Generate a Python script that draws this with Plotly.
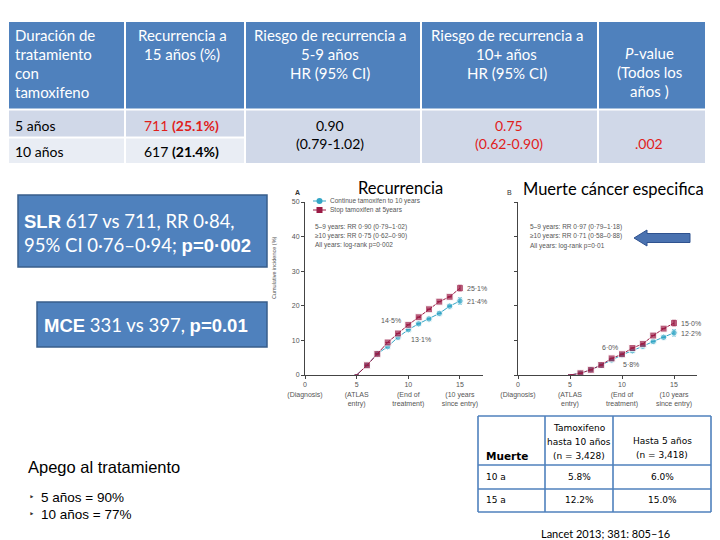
import plotly.graph_objects as go

W, H = 720, 540
def X(px): return px / W
def Y(py): return 1 - py / H

# ---------------- data ----------------
years = [5, 6, 7, 8, 9, 10, 11, 12, 13, 14, 15]
recur_stop = [0, 2.8, 6.1, 9.4, 12.0, 14.5, 16.7, 19.0, 21.2, 22.6, 25.1]
recur_cont = [0, 2.8, 6.1, 8.2, 10.9, 13.1, 14.8, 16.2, 17.8, 19.9, 21.4]
death_stop = [0, 0.5, 1.5, 2.9, 4.8, 6.0, 7.8, 9.0, 11.4, 13.4, 15.0]
death_cont = [0, 0.5, 1.5, 2.8, 4.3, 5.8, 7.0, 8.3, 9.7, 10.9, 12.2]
err_last = [0, 0, 0, 0, 0, 0, 0, 0, 0, 0, 0.9]

x_tickvals = [0, 5, 10, 15]
x_ticktext = ["0<br>(Diagnosis)", "5<br>(ATLAS<br>entry)", "10<br>(End of<br>treatment)",
              "15<br>(10 years<br>since entry)"]
y_tickvals = [0, 10, 20, 30, 40, 50]

legend_names = ["Continue tamoxifen to 10 years", "Stop tamoxifen at 5years"]
rr_text_A = ["5–9 years: RR 0·90 (0·79–1·02)", "≥10 years: RR 0·75 (0·62–0·90)",
             "All years: log-rank p=0·002"]
rr_text_B = ["5–9 years: RR 0·97 (0·79–1·18)", "≥10 years: RR 0·71 (0·58–0·88)",
             "All years: log-rank p=0·01"]

top_headers = [
    ["Duración de", "tratamiento", "con", "tamoxifeno"],
    ["Recurrencia a", "15 años (%)"],
    ["Riesgo de recurrencia a", "5-9 años", "HR (95% CI)"],
    ["Riesgo de recurrencia a", "10+ años", "HR (95% CI)"],
    ["<i>P</i>-value", "(Todos los", "años )"],
]
row_labels = ["5 años", "10 años"]
recur15 = ["711 <b>(25.1%)</b>", "617 <b>(21.4%)</b>"]
hr_5_9 = ["0.90", "(0.79-1.02)"]
hr_10 = ["0.75", "(0.62-0.90)"]
p_all = ".002"

death_header = ["Muerte", "Tamoxifeno<br>hasta 10 años<br>(n = 3,428)", "Hasta 5 años<br>(n = 3,418)"]
death_rows = [["10 a", "5.8%", "6.0%"], ["15 a", "12.2%", "15.0%"]]

apego_title = "Apego al tratamiento"
apego_items = ["5 años = 90%", "10 años = 77%"]

RED = "#9B1B45"
TEAL = "#33A6C6"
BLUE = "#4F81BD"
BLUE_D = "#385D8A"
GRAY = "#555555"

fig = go.Figure()
ann = []
shapes = []

def txt(x, y, s, size=12, color="black", xanchor="center", family="Lato", yanchor="middle", **kw):
    ann.append(dict(x=X(x), y=Y(y), xref="paper", yref="paper", text=s, showarrow=False,
                    xanchor=xanchor, yanchor=yanchor, font=dict(size=size, color=color, family=family),
                    **kw))

def rect(x0, y0, x1, y1, fill, line=None, lw=0):
    shapes.append(dict(type="rect", xref="paper", yref="paper", x0=X(x0), x1=X(x1), y0=Y(y1), y1=Y(y0),
                       fillcolor=fill, line=dict(color=line or fill, width=lw), layer="below"))

def seg(x0, y0, x1, y1, color, w=1, dash="solid"):
    shapes.append(dict(type="line", xref="paper", yref="paper", x0=X(x0), x1=X(x1), y0=Y(y0), y1=Y(y1),
                       line=dict(color=color, width=w, dash=dash)))

# ---------------- curves ----------------
msize_sq = [0] + [7] * 10
msize_ci = [0] + [6.5] * 10
for xa, ya, cont, stop in [("x", "y", recur_cont, recur_stop), ("x2", "y2", death_cont, death_stop)]:
    fig.add_trace(go.Scatter(x=years, y=cont, mode="lines+markers", xaxis=xa, yaxis=ya,
                             line=dict(color=TEAL, width=1),
                             marker=dict(symbol="circle", size=msize_ci, color=TEAL),
                             error_y=dict(type="data", array=err_last, color=TEAL, thickness=1, width=2),
                             showlegend=False, hoverinfo="skip"))
    fig.add_trace(go.Scatter(x=years, y=stop, mode="lines+markers", xaxis=xa, yaxis=ya,
                             line=dict(color=RED, width=1),
                             marker=dict(symbol="square", size=msize_sq, color=RED),
                             error_y=dict(type="data", array=err_last, color=RED, thickness=1, width=2),
                             showlegend=False, hoverinfo="skip"))

axis_common = dict(showgrid=False, zeroline=False, showline=True, linecolor="#444", linewidth=1,
                   ticks="outside", ticklen=3, tickcolor="#444", fixedrange=True, automargin=False,
                   tickfont=dict(size=7, color=GRAY, family="Liberation Sans"))
fig.update_layout(
    xaxis=dict(domain=[X(305), X(483)], range=[0, 17.23], anchor="y", tickvals=x_tickvals,
               ticktext=x_ticktext, **axis_common),
    yaxis=dict(domain=[Y(375), Y(202)], range=[0, 50], anchor="x", tickvals=y_tickvals, **axis_common),
    xaxis2=dict(domain=[X(518), X(697)], range=[0, 17.21], anchor="y2", tickvals=x_tickvals,
                ticktext=x_ticktext, **axis_common),
    yaxis2=dict(domain=[Y(375), Y(202)], range=[0, 50], anchor="x2", tickvals=y_tickvals,
                showticklabels=False, **{k: v for k, v in axis_common.items() if k != "tickfont"}),
)

# point labels (data coords)
def plab(xa, ya, xv, yv, s, xshift, yshift, xanchor):
    ann.append(dict(x=xv, y=yv, xref=xa, yref=ya, text=s, showarrow=False, xanchor=xanchor,
                    xshift=xshift, yshift=yshift, font=dict(size=7, color=GRAY, family="Liberation Sans")))

plab("x", "y", 15, recur_stop[-1], "25·1%", 5, 0, "left")
plab("x", "y", 15, recur_cont[-1], "21·4%", 5, -1, "left")
plab("x", "y", 10, recur_stop[5], "14·5%", -5, 4, "right")
plab("x", "y", 10, recur_cont[5], "13·1%", 1, -10, "left")
plab("x2", "y2", 15, death_stop[-1], "15·0%", 5, 0, "left")
plab("x2", "y2", 15, death_cont[-1], "12·2%", 5, -1, "left")
plab("x2", "y2", 10, death_stop[5], "6·0%", -2, 7, "right")
plab("x2", "y2", 10, death_cont[5], "5·8%", -1, -10, "left")

# legend of panel A
seg(313, 201, 326, 201, TEAL, 1)
shapes.append(dict(type="circle", xref="paper", yref="paper", x0=X(316.5), x1=X(322.5), y0=Y(204), y1=Y(198),
                   fillcolor=TEAL, line=dict(color=TEAL, width=0)))
seg(313, 210, 326, 210, RED, 1)
rect(316.5, 207, 322.5, 213, RED)
shapes[-1]["layer"] = "above"
txt(328, 201, legend_names[0], 6.5, GRAY, "left", "Liberation Sans")
txt(328, 210, legend_names[1], 6.5, GRAY, "left", "Liberation Sans")
for i, s in enumerate(rr_text_A):
    txt(313, 227 + 9 * i, s, 6.5, GRAY, "left", "Liberation Sans")
for i, s in enumerate(rr_text_B):
    txt(528, 227 + 9.5 * i, s, 6.5, GRAY, "left", "Liberation Sans")

txt(274, 268, "Cumulative incidence (%)", 5.5, GRAY, "center", "Liberation Sans", textangle=-90)
txt(297, 192, "<b>A</b>", 7, "#333", "center", "Liberation Sans")
txt(509, 192, "B", 7, "#333", "center", "Liberation Sans")
txt(400, 188, "Recurrencia", 16.5, "black", "center", "Lato")
txt(613, 189, "Muerte cáncer especifica", 16.5, "black", "center", "Lato")

# arrow
ax = [634, 647, 647, 690, 690, 647, 647]
ay = [238, 230, 233.5, 233.5, 242.5, 242.5, 246]
path = "M " + " L ".join(f"{X(a)},{Y(b)}" for a, b in zip(ax, ay)) + " Z"
shapes.append(dict(type="path", xref="paper", yref="paper", path=path, fillcolor="#4A72B0",
                   line=dict(color="#2F528F", width=1)))

# ---------------- top table ----------------
col_edges = [8, 125, 245, 421, 598, 706]
centers = [(col_edges[i] + col_edges[i + 1]) / 2 for i in range(5)]
for i in range(5):
    rect(col_edges[i] + 1, 22, col_edges[i + 1] - 1, 108.5, BLUE)
rect(col_edges[0] + 1, 110.5, col_edges[1] - 1, 136.5, "#D0D8E8")
rect(col_edges[1] + 1, 110.5, col_edges[2] - 1, 136.5, "#D0D8E8")
rect(col_edges[0] + 1, 138.5, col_edges[1] - 1, 163, "#E9EDF4")
rect(col_edges[1] + 1, 138.5, col_edges[2] - 1, 163, "#E9EDF4")
for i in range(2, 5):
    rect(col_edges[i] + 1, 110.5, col_edges[i + 1] - 1, 163, "#D0D8E8")

for i, lines in enumerate(top_headers):
    y0 = 53 if i == 4 else 35
    for j, s in enumerate(lines):
        if i == 0:
            txt(13, y0 + 19 * j, s, 15, "white", "left")
        else:
            txt(centers[i] - 3, y0 + 19 * j, s, 15, "white", "center")

txt(13, 125, row_labels[0], 14, "black", "left")
txt(13, 151, row_labels[1], 14, "black", "left")
txt(centers[1] - 4, 125, recur15[0], 14, "#E0201B")
txt(centers[1] - 4, 151, recur15[1], 14, "black")
txt(centers[2] - 3, 125, hr_5_9[0], 14, "black")
txt(centers[2] - 3, 143, hr_5_9[1], 14, "black")
txt(centers[3] - 1, 125, hr_10[0], 14, "#E0201B")
txt(centers[3] - 1, 143, hr_10[1], 14, "#E0201B")
txt(centers[4] - 3, 144, p_all, 14, "#E0201B")

# ---------------- blue boxes ----------------
rect(18, 195, 267, 267, BLUE, BLUE_D, 1.5)
rect(37, 302, 267, 347, BLUE, BLUE_D, 1.5)
AR = "font-family:'Liberation Sans'"
txt(22, 221, f"<b><span style=\"{AR}\">SLR</span></b> 617 vs 711, RR 0·84,", 18.5, "white", "left", "Lato")
txt(22, 245, f"95% CI 0·76–0·94; <b><span style=\"{AR}\">p=0·002</span></b>", 18.5, "white", "left", "Lato")
txt(42, 325, f"<b><span style=\"{AR}\">MCE</span></b> 331 vs 397, <b><span style=\"{AR}\">p=0.01</span></b>",
    18.5, "white", "left", "Lato")

# ---------------- bottom table ----------------
bx = [478, 545, 613, 711]
by = [416, 465, 489, 512]
TB = "#4F81BD"
for xv in bx:
    seg(xv, by[0], xv, by[-1], TB, 1.6)
for yv in by:
    seg(bx[0], yv, bx[-1], yv, TB, 1.6)
txt(484, 456, f"<b>{death_header[0]}</b>", 10.5, "black", "left", "DejaVu Sans")
for k, s in enumerate(death_header[1].split("<br>")):
    txt(579, 428 + 14 * k, s, 9, "black", "center", "DejaVu Sans")
for k, s in enumerate(death_header[2].split("<br>")):
    txt(662, 441 + 14 * k, s, 9, "black", "center", "DejaVu Sans")
for r, row in enumerate(death_rows):
    yv = 477 + 23 * r
    txt(484, yv, row[0], 9, "black", "left", "DejaVu Sans")
    txt(579, yv, row[1], 9, "black", "center", "DejaVu Sans")
    txt(662, yv, row[2], 9, "black", "center", "DejaVu Sans")
txt(605, 533, "Lancet 2013; 381: 805–16", 11, "black", "center", "Lato")

# ---------------- apego ----------------
txt(26, 467, apego_title, 16.5, "black", "left", "Liberation Sans")
for k, s in enumerate(apego_items):
    txt(27, 497 + 17 * k, "‣", 9, "#333", "left", "DejaVu Sans")
    txt(39, 497 + 17 * k, s, 13.5, "black", "left", "Liberation Sans")

fig.update_layout(width=W, height=H,
                  margin=dict(l=0, r=0, t=0, b=0, pad=0, autoexpand=False),
                  paper_bgcolor="white", plot_bgcolor="rgba(0,0,0,0)",
                  annotations=ann, shapes=shapes, showlegend=False)
fig.write_html("out.html")
